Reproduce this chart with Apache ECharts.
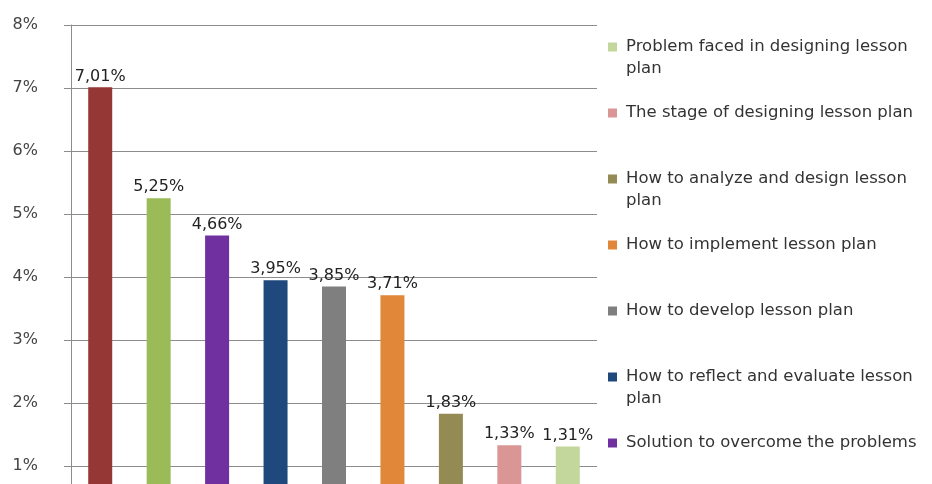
<!DOCTYPE html>
<html>
<head>
<meta charset="utf-8">
<script src="https://cdn.jsdelivr.net/npm/echarts@6/dist/echarts.min.js"></script>
<style>
html,body{margin:0;padding:0;background:#fff;}
#chart{width:932px;height:484px;}
</style>
</head>
<body>
<div id="chart"></div>
<script>
const categories = ['c1', 'c2', 'c3', 'c4', 'c5', 'c6', 'c7', 'c8', 'c9'];
const seriesNames = [
  'Series 1',
  'Series 2',
  'Solution to overcome the problems',
  'How to reflect and evaluate lesson plan',
  'How to develop lesson plan',
  'How to implement lesson plan',
  'How to analyze and design lesson plan',
  'The stage of designing lesson plan',
  'Problem faced in designing lesson plan'
];
const values = [7.01, 5.25, 4.66, 3.95, 3.85, 3.71, 1.83, 1.33, 1.31];
const colors = ['#953735', '#9BBB59', '#7030A0', '#1F497D', '#7F7F7F', '#E0873A', '#948A54', '#D99694', '#C3D69B'];
const legendOrder = [
  'Problem faced in designing lesson plan',
  'The stage of designing lesson plan',
  'How to analyze and design lesson plan',
  'How to implement lesson plan',
  'How to develop lesson plan',
  'How to reflect and evaluate lesson plan',
  'Solution to overcome the problems'
];
const legendLabels = {
  'Problem faced in designing lesson plan': '\nProblem faced in designing lesson\nplan',
  'How to analyze and design lesson plan': '\nHow to analyze and design lesson\nplan',
  'How to reflect and evaluate lesson plan': '\nHow to reflect and evaluate lesson\nplan'
};
const yMin = 0, yMax = 8, yStep = 1;

const FONT = 'DejaVu Sans';
const chart = echarts.init(document.getElementById('chart'));

const series = seriesNames.map((name, i) => ({
  name: name,
  type: 'bar',
  barWidth: 24,
  barGap: '-100%',
  itemStyle: { color: colors[i] },
  label: {
    show: true,
    position: 'top',
    distance: 3,
    fontFamily: FONT,
    fontSize: 16,
    color: '#222',
    formatter: p => p.value[1].toFixed(2).replace('.', ',') + '%'
  },
  data: [[categories[i], values[i]]]
}));

chart.setOption({
  animation: false,
  backgroundColor: '#fff',
  grid: { left: 71, top: 25, width: 526, height: 504, containLabel: false, outerBoundsMode: 'none' },
  legend: {
    orient: 'vertical',
    left: 608,
    top: 14,
    height: 470,
    padding: 0,
    itemGap: 0,
    itemWidth: 9,
    itemHeight: 9,
    icon: 'rect',
    selectedMode: false,
    formatter: n => legendLabels[n] || n,
    textStyle: { fontFamily: FONT, fontSize: 16.5, color: '#333', lineHeight: 22 },
    data: legendOrder.map(n => ({
      name: n,
      textStyle: { padding: legendLabels[n] ? [0, 0, 0, 4] : [22, 0, 22, 4] }
    }))
  },
  xAxis: {
    type: 'category',
    data: categories,
    axisLine: { show: false },
    axisTick: { show: false },
    axisLabel: { show: false }
  },
  yAxis: {
    type: 'value',
    min: yMin,
    max: yMax,
    interval: yStep,
    axisLine: { show: true, lineStyle: { color: '#8c8c8c', width: 1 } },
    axisTick: { show: true, length: 7, lineStyle: { color: '#8c8c8c' } },
    splitLine: { show: true, lineStyle: { color: '#8c8c8c', width: 1 } },
    axisLabel: {
      margin: 33,
      fontFamily: FONT,
      fontSize: 16,
      color: '#444',
      formatter: '{value}%'
    }
  },
  series: series
});
</script>
</body>
</html>
